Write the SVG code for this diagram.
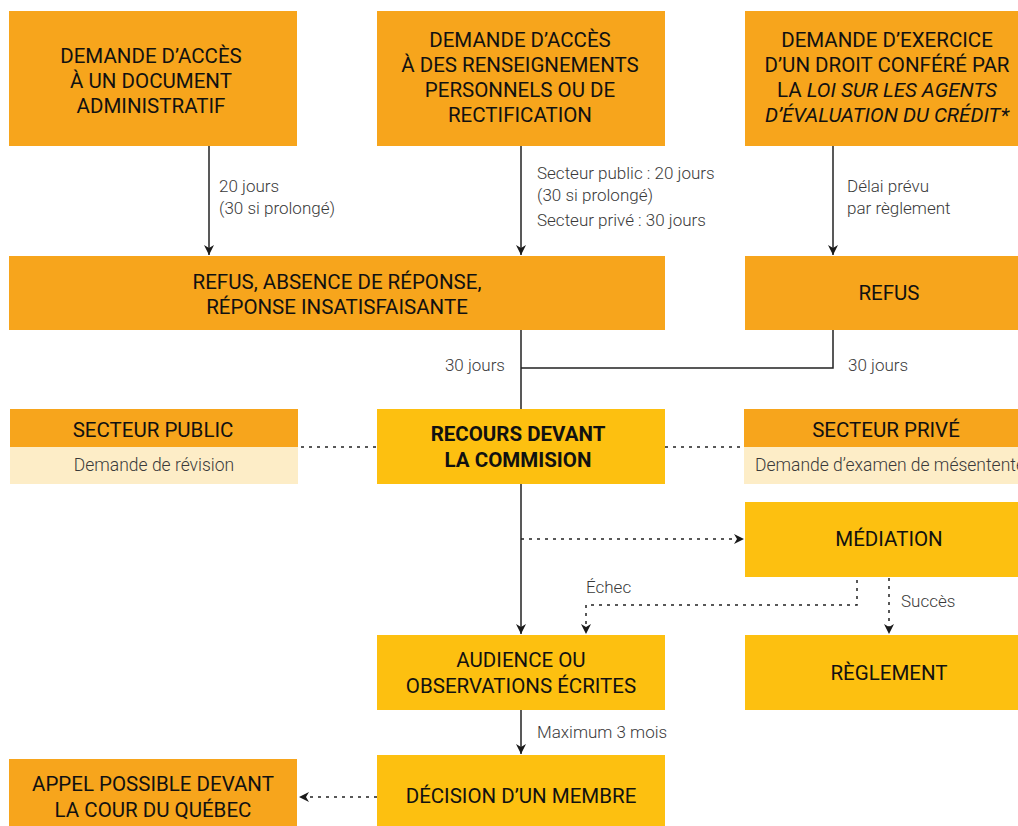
<svg xmlns="http://www.w3.org/2000/svg" width="1018" height="826" viewBox="0 0 1018 826">
<defs>
<marker id="ah" viewBox="0 0 10 10" refX="10" refY="5" markerWidth="10" markerHeight="10" markerUnits="userSpaceOnUse" orient="auto">
<path d="M0,0 L10,5 L0,10 L3,5 Z" fill="#1a1a1a"/>
</marker>
<style>
.o{fill:#F7A51C}
.y{fill:#FDC010}
.l{fill:#FDEDC7}
.t{font-family:Roboto,"Liberation Sans",sans-serif;font-size:20.5px;fill:#111;text-anchor:middle}
.b{font-weight:bold}
.s{font-family:Roboto,"Liberation Sans",sans-serif;font-size:17px;fill:#3a3a3a;font-weight:300}
.m{font-size:17.5px;text-anchor:middle}
.ln{fill:none;stroke:#222;stroke-width:1.5}
.d{fill:none;stroke:#222;stroke-width:1.5;stroke-dasharray:3 5}
</style>
</defs>
<rect width="1018" height="826" fill="#fff"/>
<g id="connectors">
<line class="ln" x1="209" y1="146" x2="209" y2="255" marker-end="url(#ah)"/>
<line class="ln" x1="521" y1="146" x2="521" y2="255" marker-end="url(#ah)"/>
<line class="ln" x1="833" y1="146" x2="833" y2="255" marker-end="url(#ah)"/>
<line class="ln" x1="521" y1="330" x2="521" y2="634" marker-end="url(#ah)"/>
<polyline class="ln" points="833,330 833,368 521,368"/>
<line class="d" x1="301" y1="447" x2="377" y2="447"/>
<line class="d" x1="665" y1="447" x2="744" y2="447"/>
<line class="d" x1="521" y1="539" x2="744" y2="539" marker-end="url(#ah)"/>
<polyline class="d" points="857,580 857,605 586,605 586,634" marker-end="url(#ah)"/>
<line class="d" x1="889" y1="578" x2="889" y2="634" marker-end="url(#ah)"/>
<line class="ln" x1="521" y1="710" x2="521" y2="754" marker-end="url(#ah)"/>
<line class="d" x1="377" y1="797" x2="299" y2="797" marker-end="url(#ah)"/>
</g>
<g id="n1"><rect class="o" x="9" y="11" width="288" height="135"/>
<text class="t" x="151" y="63">DEMANDE D’ACCÈS</text><text class="t" x="151" y="88">À UN DOCUMENT</text><text class="t" x="151" y="113">ADMINISTRATIF</text></g>
<g id="n2"><rect class="o" x="377" y="11" width="288" height="135"/>
<text class="t" x="520" y="47">DEMANDE D’ACCÈS</text><text class="t" x="520" y="72">À DES RENSEIGNEMENTS</text><text class="t" x="520" y="97">PERSONNELS OU DE</text><text class="t" x="520" y="122">RECTIFICATION</text></g>
<g id="n3"><rect class="o" x="745" y="11" width="288" height="135"/>
<text class="t" x="887" y="47">DEMANDE D’EXERCICE</text><text class="t" x="887" y="72">D’UN DROIT CONFÉRÉ PAR</text><text class="t" x="887" y="97">LA <tspan font-style="italic">LOI SUR LES AGENTS</tspan></text><text class="t" x="887" y="122" font-style="italic">D’ÉVALUATION DU CRÉDIT*</text></g>
<g id="lbl">
<text class="s" x="219" y="192">20 jours</text><text class="s" x="219" y="214">(30 si prolongé)</text>
<text class="s" x="537" y="179">Secteur public : 20 jours</text><text class="s" x="537" y="201">(30 si prolongé)</text><text class="s" x="537" y="226">Secteur privé : 30 jours</text>
<text class="s" x="847" y="192">Délai prévu</text><text class="s" x="847" y="214">par règlement</text>
<text class="s" x="505" y="371" text-anchor="end">30 jours</text><text class="s" x="848" y="371">30 jours</text>
<text class="s" x="586" y="593">Échec</text><text class="s" x="901" y="607">Succès</text>
<text class="s" x="537" y="738">Maximum 3 mois</text>
</g>
<g id="n4"><rect class="o" x="9" y="256" width="656" height="74"/>
<text class="t" x="337" y="289">REFUS, ABSENCE DE RÉPONSE,</text><text class="t" x="337" y="314">RÉPONSE INSATISFAISANTE</text></g>
<g id="n5"><rect class="o" x="745" y="256" width="288" height="74"/>
<text class="t" x="889" y="300">REFUS</text></g>
<g id="n6"><rect class="o" x="10" y="409" width="288" height="38"/><rect class="l" x="10" y="447" width="288" height="37"/>
<text class="t" x="153" y="437">SECTEUR PUBLIC</text><text class="s m" x="154" y="471">Demande de révision</text></g>
<g id="n7"><rect class="y" x="377" y="409" width="288" height="75"/>
<text class="t b" x="518" y="441">RECOURS DEVANT</text><text class="t b" x="518" y="467">LA COMMISION</text></g>
<g id="n8"><rect class="o" x="744" y="409" width="290" height="38"/><rect class="l" x="744" y="447" width="290" height="37"/>
<text class="t" x="886" y="437">SECTEUR PRIVÉ</text><text class="s m" x="890" y="471">Demande d’examen de mésentente</text></g>
<g id="n9"><rect class="y" x="745" y="502" width="288" height="75"/>
<text class="t" x="889" y="546">MÉDIATION</text></g>
<g id="n10"><rect class="y" x="377" y="635" width="288" height="75"/>
<text class="t" x="521" y="667">AUDIENCE OU</text><text class="t" x="521" y="693">OBSERVATIONS ÉCRITES</text></g>
<g id="n11"><rect class="y" x="745" y="635" width="288" height="75"/>
<text class="t" x="889" y="680">RÈGLEMENT</text></g>
<g id="n12"><rect class="y" x="377" y="755" width="288" height="75"/>
<text class="t" x="521" y="803">DÉCISION D’UN MEMBRE</text></g>
<g id="n13"><rect class="o" x="9" y="759" width="288" height="70"/>
<text class="t" x="153" y="791">APPEL POSSIBLE DEVANT</text><text class="t" x="153" y="817">LA COUR DU QUÉBEC</text></g>
</svg>
